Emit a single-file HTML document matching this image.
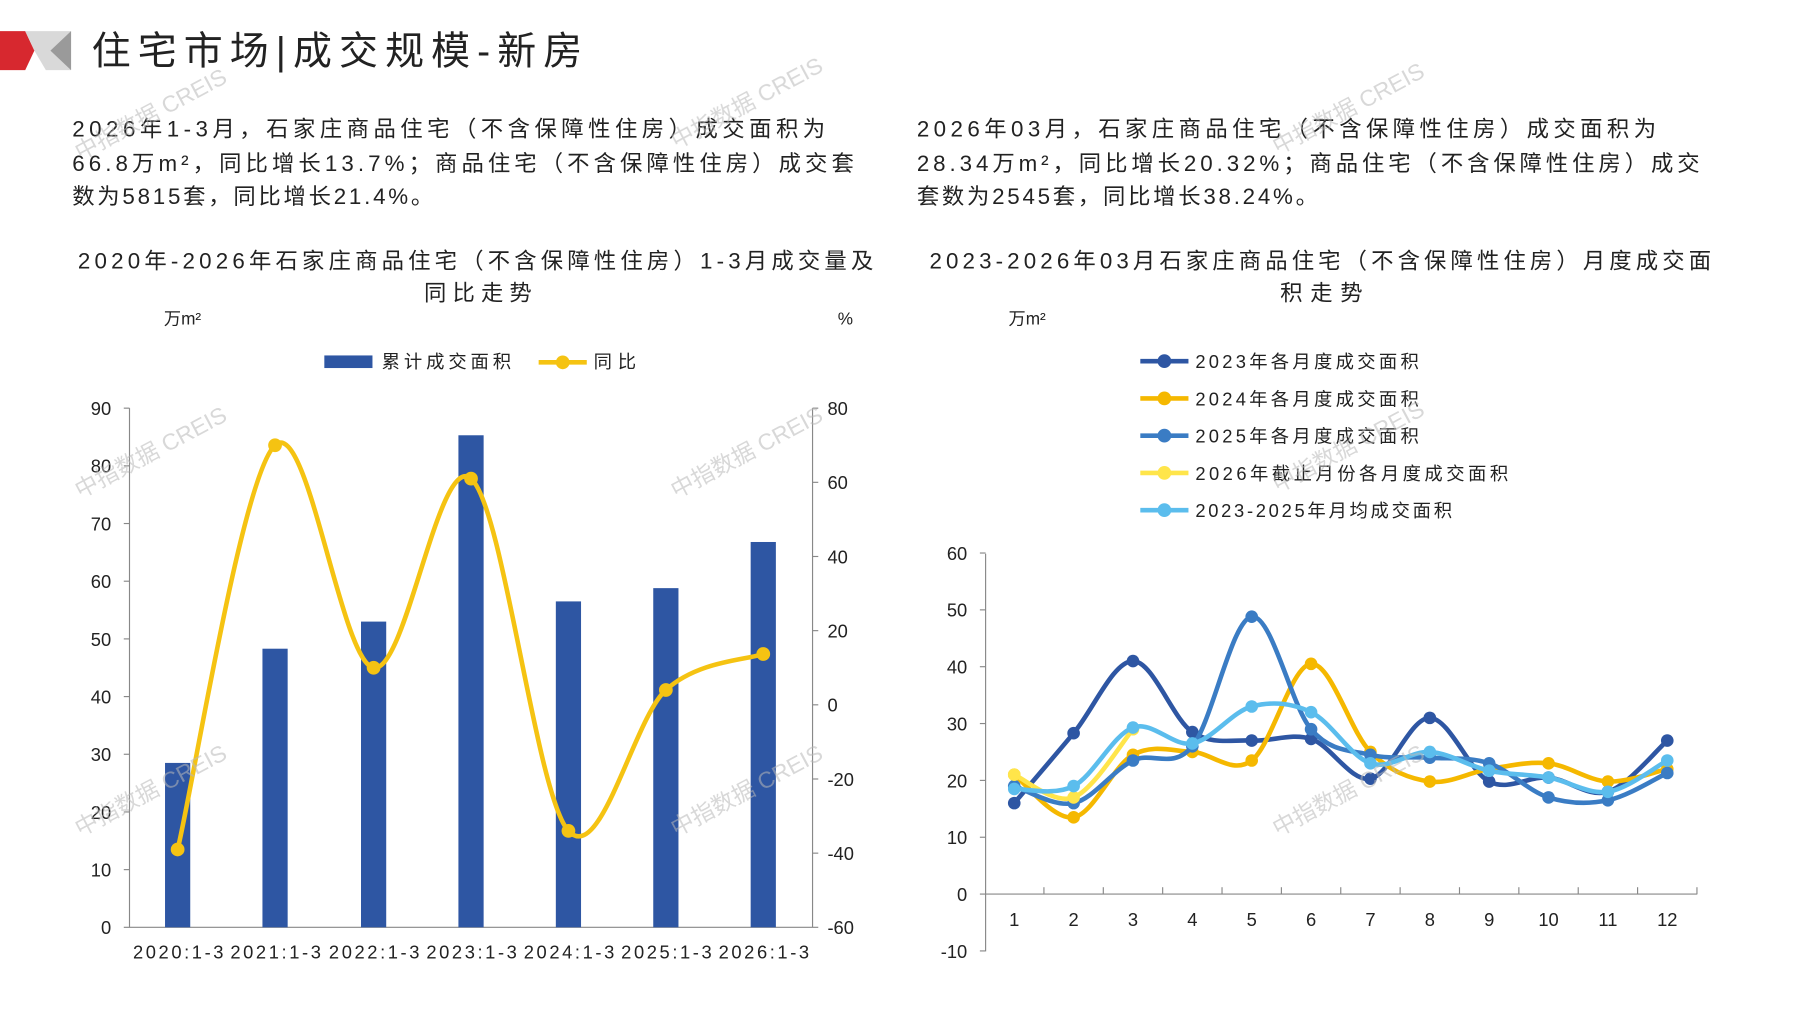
<!DOCTYPE html>
<html><head><meta charset="utf-8"><style>
html,body{margin:0;padding:0;background:#fff;}
svg{display:block;}
text{font-family:"Liberation Sans","Noto Sans CJK SC",sans-serif;fill:#222;}
</style></head><body>
<svg id="s" width="1797" height="1010" viewBox="0 0 1568 881" xmlns="http://www.w3.org/2000/svg">
<rect width="1568" height="881" fill="#fff"/>
<polygon points="0,27 22,27 30,44 22,61 0,61" fill="#d7282f"/>
<polygon points="22,27 62,27 62,61 40,61 30,44" fill="#d9d9d9"/>
<polygon points="44,44 62,27 62,61" fill="#9a9a9a"/>
<text x="80" y="56" font-size="34" textLength="428" lengthAdjust="spacing">住宅市场|成交规模-新房</text>
<g font-size="19.5">
<text x="63" y="119" textLength="657" lengthAdjust="spacing">2026年1-3月，石家庄商品住宅（不含保障性住房）成交面积为</text>
<text x="63" y="149" textLength="682" lengthAdjust="spacing">66.8万m²，同比增长13.7%；商品住宅（不含保障性住房）成交套</text>
<text x="63" y="178" textLength="315" lengthAdjust="spacing">数为5815套，同比增长21.4%。</text>
<text x="800" y="119" textLength="645" lengthAdjust="spacing">2026年03月，石家庄商品住宅（不含保障性住房）成交面积为</text>
<text x="800" y="149" textLength="683" lengthAdjust="spacing">28.34万m²，同比增长20.32%；商品住宅（不含保障性住房）成交</text>
<text x="800" y="178" textLength="350" lengthAdjust="spacing">套数为2545套，同比增长38.24%。</text>
<text x="68" y="234" textLength="694" lengthAdjust="spacing">2020年-2026年石家庄商品住宅（不含保障性住房）1-3月成交量及</text>
<text x="370" y="262" textLength="94" lengthAdjust="spacing">同比走势</text>
<text x="811" y="234" textLength="682" lengthAdjust="spacing">2023-2026年03月石家庄商品住宅（不含保障性住房）月度成交面</text>
<text x="1117" y="262" textLength="72" lengthAdjust="spacing">积走势</text>
</g>
<g font-size="15">
<text x="143" y="283">万m²</text><text x="731" y="283">%</text><text x="880" y="283">万m²</text>
</g>
<g id="L"></g>
<g id="R"></g>
<g id="W" fill="#bbb" opacity="0.55" font-size="20"></g>
</svg>
<script>
const NS="http://www.w3.org/2000/svg";
function el(p,t,a,txt){const e=document.createElementNS(NS,t);for(const k in a)e.setAttribute(k,a[k]);if(txt!=null)e.textContent=txt;p.appendChild(e);return e;}
function smooth(pts){let d=`M${pts[0][0]},${pts[0][1]}`;for(let i=0;i<pts.length-1;i++){const p0=pts[i-1]||pts[i],p1=pts[i],p2=pts[i+1],p3=pts[i+2]||p2;const t=6;d+=` C${p1[0]+(p2[0]-p0[0])/t},${p1[1]+(p2[1]-p0[1])/t} ${p2[0]-(p3[0]-p1[0])/t},${p2[1]-(p3[1]-p1[1])/t} ${p2[0]},${p2[1]}`;}return d;}
const L=document.getElementById('L');
const yL=v=>809-v*(453/90), yR=v=>809-(v+60)*(453/140);
const xs=[155,240,326,411,496,581,666];
const bars=[28.5,48.3,53,85.3,56.5,58.8,66.8], yoy=[-39,70,10,61,-34,4,13.7];
const cats=["2020:1-3","2021:1-3","2022:1-3","2023:1-3","2024:1-3","2025:1-3","2026:1-3"];
el(L,'line',{x1:113,y1:356,x2:113,y2:809,stroke:'#888'});
el(L,'line',{x1:709,y1:356,x2:709,y2:809,stroke:'#888'});
el(L,'line',{x1:113,y1:809,x2:709,y2:809,stroke:'#888'});
for(let v=0;v<=90;v+=10){const y=yL(v);el(L,'line',{x1:108,y1:y,x2:113,y2:y,stroke:'#888'});el(L,'text',{x:97,y:y+6,'font-size':16,'text-anchor':'end'},v);}
for(let v=-60;v<=80;v+=20){const y=yR(v);el(L,'line',{x1:709,y1:y,x2:714,y2:y,stroke:'#888'});el(L,'text',{x:722,y:y+6,'font-size':16},v);}
xs.forEach((x,i)=>{el(L,'rect',{x:x-11,y:yL(bars[i]),width:22,height:809-yL(bars[i]),fill:'#2E56A3'});el(L,'text',{x:x-39,y:836,'font-size':16,textLength:79,lengthAdjust:'spacing'},cats[i]);});
const yp=xs.map((x,i)=>[x,yR(yoy[i])]);
el(L,'path',{d:smooth(yp),fill:'none',stroke:'#F5C312','stroke-width':4});
yp.forEach(p=>el(L,'circle',{cx:p[0],cy:p[1],r:6,fill:'#F5C312'}));
el(L,'rect',{x:283,y:310,width:42,height:11,fill:'#2E56A3'});
el(L,'text',{x:333,y:321,'font-size':16,textLength:113,lengthAdjust:'spacing'},'累计成交面积');
el(L,'line',{x1:470,y1:316,x2:512,y2:316,stroke:'#F5C312','stroke-width':4});
el(L,'circle',{cx:491,cy:316,r:6,fill:'#F5C312'});
el(L,'text',{x:518,y:321,'font-size':16,textLength:37,lengthAdjust:'spacing'},'同比');
const R=document.getElementById('R');
const y2=v=>780-v*4.96, x2=m=>885+(m-1)*51.8;
el(R,'line',{x1:860,y1:483,x2:860,y2:830,stroke:'#888'});
el(R,'line',{x1:860,y1:780,x2:1481,y2:780,stroke:'#888'});
for(let v=-10;v<=60;v+=10){const y=y2(v);el(R,'line',{x1:855,y1:y,x2:860,y2:y,stroke:'#888'});el(R,'text',{x:844,y:y+6,'font-size':16,'text-anchor':'end'},v);}
for(let m=1;m<=12;m++){const tx=x2(m)+25.9;el(R,'line',{x1:tx,y1:774,x2:tx,y2:780,stroke:'#888'});el(R,'text',{x:x2(m),y:808,'font-size':16,'text-anchor':'middle'},m);}
const S=[
['#2E56A3',[16,28.3,41,28.5,27,27.3,20.3,31,19.8,20.5,18,27],'2023年各月度成交面积',195],
['#F5B800',[21,13.5,24.5,25,23.5,40.5,25,19.8,22,23,19.8,22],'2024年各月度成交面积',195],
['#3A7CC4',[19,16,23.5,26,48.8,29,24.5,24,23,17,16.5,21.3],'2025年各月度成交面积',195],
['#FFE54A',[21,17,29],'2026年截止月份各月度成交面积',273],
['#5BBDED',[18.5,19,29.3,26.5,33,32,23,25,21.7,20.5,18,23.5],'2023-2025年月均成交面积',224]];
S.forEach((s,k)=>{const pts=s[1].map((v,i)=>[x2(i+1),y2(v)]);el(R,'path',{d:smooth(pts),fill:'none',stroke:s[0],'stroke-width':4});pts.forEach(p=>el(R,'circle',{cx:p[0],cy:p[1],r:5.5,fill:s[0]}));
const ly=315+k*32.5;el(R,'line',{x1:995,y1:ly,x2:1037,y2:ly,stroke:s[0],'stroke-width':4});el(R,'circle',{cx:1016,cy:ly,r:6,fill:s[0]});el(R,'text',{x:1043,y:ly+6,'font-size':16,textLength:s[3],lengthAdjust:'spacing'},s[2]);});
const W=document.getElementById('W');
[[70,140],[590,130],[1115,135],[70,435],[590,435],[1115,430],[70,730],[590,730],[1115,730]].forEach(p=>el(W,'text',{x:p[0],y:p[1],transform:`rotate(-28 ${p[0]} ${p[1]})`,style:'fill:#b8b8b8'},'中指数据 CREIS'));
</script>
</body></html>
